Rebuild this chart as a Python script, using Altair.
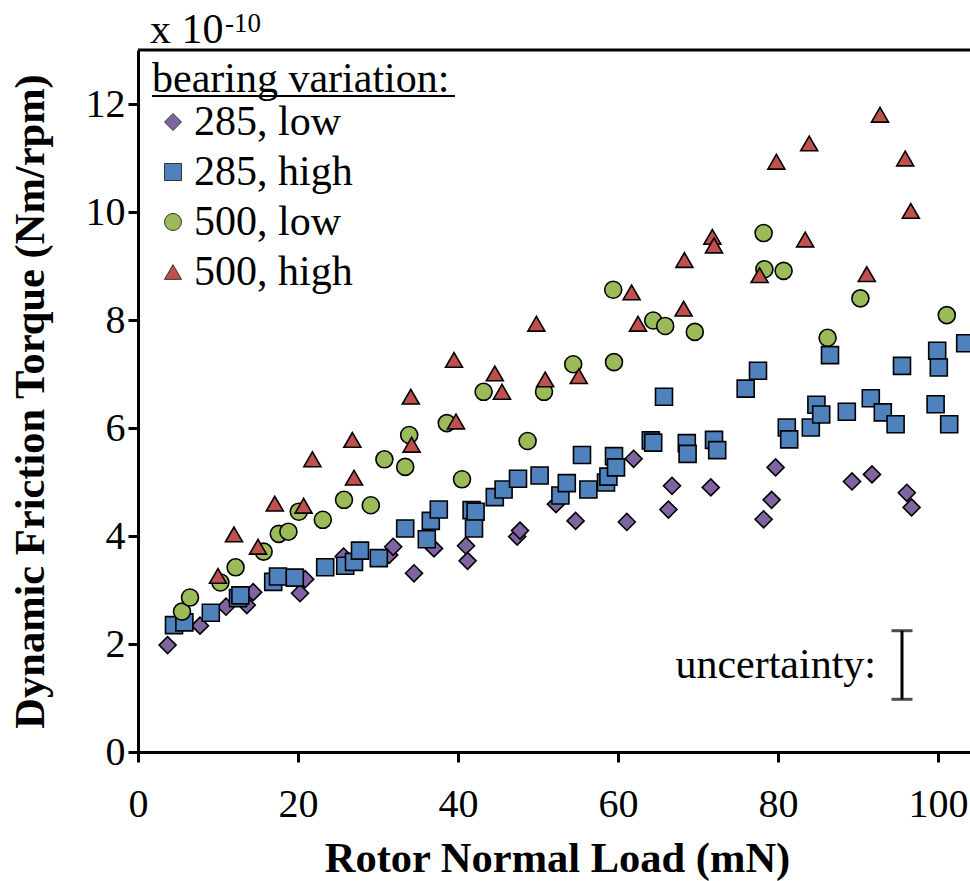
import altair as alt
import pandas as pd

series_names = ["285, low", "285, high", "500, low", "500, high"]
series_colors = ["#8064A2", "#4F81BD", "#9BBB59", "#C0504D"]
series_shapes = ["diamond", "square", "circle", "triangle-up"]
series_sizes = [289, 289, 225, 324]

# 285, low (diamonds)
low285_x = [3.7, 7.75, 11.0, 13.6, 14.4, 20.25, 20.9, 25.7, 31.4, 31.9, 34.5, 37.0, 41.0, 41.2,
            47.4, 47.75, 52.25, 54.7, 61.1, 61.95, 66.3, 66.75, 71.6, 78.2, 79.2, 79.7, 89.25,
            91.75, 96.1, 96.7]
low285_y = [1.98, 2.34, 2.69, 2.72, 2.96, 2.94, 3.2, 3.62, 3.65, 3.80, 3.31, 3.77, 3.82, 3.54,
            3.99, 4.10, 4.59, 4.28, 4.26, 5.43, 4.49, 4.93, 4.90, 4.31, 4.67, 5.27, 5.01,
            5.14, 4.80, 4.53]

# 285, high (squares)
high285_x = [4.5, 5.8, 9.1, 12.5, 12.8, 16.9, 17.5, 19.6, 23.4, 25.9, 27.0, 27.75, 30.1, 33.4,
             36.1, 36.6, 37.6, 41.7, 42.2, 42.0, 44.6, 45.7, 47.5, 50.2, 52.8, 53.6, 55.5, 56.3,
             58.5, 58.8, 59.5, 59.75, 64.1, 64.4, 65.75, 68.6, 68.7, 72.0, 72.4, 75.96, 77.5,
             81.1, 81.4, 84.1, 84.8, 85.4, 86.5, 88.6, 91.6, 93.1, 94.7, 95.5, 99.7, 99.9,
             100.1, 101.4, 103.4]
high285_y = [2.35, 2.40, 2.58, 2.85, 2.90, 3.15, 3.25, 3.23, 3.42, 3.45, 3.52, 3.73, 3.59, 4.14,
             3.94, 4.28, 4.49, 4.48, 4.45, 4.14, 4.72, 4.86, 5.06, 5.12, 4.75, 4.98, 5.50, 4.86,
             4.99, 5.10, 5.48, 5.27, 5.77, 5.73, 6.58, 5.72, 5.52, 5.78, 5.59, 6.73, 7.06,
             6.01, 5.79, 6.01, 6.43, 6.25, 7.35, 6.30, 6.55, 6.29, 6.07, 7.15, 6.44, 7.43,
             7.12, 6.07, 7.57]

# 500, low (circles)
low500_x = [5.5, 6.5, 10.3, 12.2, 15.7, 17.6, 18.8, 20.1, 23.1, 25.75, 29.1, 30.8, 33.4, 33.9,
            38.6, 40.5, 43.2, 48.7, 50.75, 54.4, 59.5, 59.4, 64.4, 65.9, 69.6, 78.2, 78.3,
            80.7, 86.2, 90.3, 101.1]
low500_y = [2.60, 2.86, 3.14, 3.42, 3.71, 4.04, 4.08, 4.45, 4.30, 4.67, 4.57, 5.42, 5.28, 5.87,
            6.09, 5.05, 6.67, 5.76, 6.67, 7.18, 7.22, 8.56, 7.99, 7.89, 7.78, 9.61, 8.94,
            8.91, 7.67, 8.40, 8.09]

# 500, high (triangles)
high500_x = [10.0, 12.0, 15.0, 17.1, 20.7, 21.8, 26.8, 27.0, 34.1, 34.2, 39.5, 39.75, 44.6, 45.5,
             49.8, 50.9, 55.1, 61.7, 62.5, 68.2, 68.3, 71.8, 72.0, 77.7, 79.8, 83.4, 83.9,
             91.1, 92.75, 95.9, 96.6]
high500_y = [3.26, 4.03, 3.80, 4.60, 4.56, 5.42, 5.78, 5.08, 6.58, 5.69, 7.26, 6.12, 7.01, 6.67,
             7.93, 6.90, 6.96, 8.51, 7.93, 8.21, 9.11, 9.54, 9.38, 8.83, 10.93, 9.49, 11.27,
             8.85, 11.80, 10.99, 10.02]

x_ticks = [0, 20, 40, 60, 80, 100]
y_ticks = [0, 2, 4, 6, 8, 10, 12]

# uncertainty bar
unc_x = [95.5]
unc_low = [0.976]
unc_high = [2.246]

FONT = "Liberation Serif"
W, H = 832, 702

rows = []
for name, xs, ys in zip(series_names,
                        [low285_x, high285_x, low500_x, high500_x],
                        [low285_y, high285_y, low500_y, high500_y]):
    for xv, yv in zip(xs, ys):
        rows.append({"series": name, "load": xv, "torque": yv})
df = pd.DataFrame(rows)

xscale = alt.Scale(domain=[0, 104], nice=False, zero=False)
yscale = alt.Scale(domain=[0, 13], nice=False)

legend = alt.Legend(
    title="bearing variation:", orient="none", legendX=14, legendY=9,
    padding=0, titlePadding=0, rowPadding=8, symbolOffset=0, labelOffset=0,
    titleFont=FONT, titleFontSize=42, titleFontWeight="normal", titleColor="black",
    titleLimit=1000, labelLimit=1000,
    labelFont=FONT, labelFontSize=42, labelColor="black",
    symbolSize=170, symbolStrokeColor="#333333", symbolStrokeWidth=1,
)

points = alt.Chart(df).mark_point(
    filled=True, stroke="black", strokeWidth=1.6, opacity=1
).encode(
    x=alt.X("load:Q", scale=xscale, axis=alt.Axis(
        values=x_ticks, title="Rotor Normal Load (mN)", labelPadding=22,
        titleY=106, titleBaseline="middle", titleX=419)),
    y=alt.Y("torque:Q", scale=yscale, axis=alt.Axis(
        values=y_ticks, title="Dynamic Friction Torque (Nm/rpm)", labelPadding=3,
        titleX=-108, titleY=351, titleAngle=-90, titleBaseline="middle",
        titleAlign="center")),
    color=alt.Color("series:N", scale=alt.Scale(domain=series_names, range=series_colors),
                    legend=legend),
    shape=alt.Shape("series:N", scale=alt.Scale(domain=series_names, range=series_shapes),
                    legend=legend),
    size=alt.Size("series:N", scale=alt.Scale(domain=series_names, range=series_sizes),
                  legend=None),
)

one = pd.DataFrame({"k": [0]})

top_border = alt.Chart(one).mark_rule(color="black", strokeWidth=3).encode(
    x=alt.value(0), x2=alt.value(W), y=alt.value(0))

underline = alt.Chart(one).mark_rule(color="black", strokeWidth=2).encode(
    x=alt.value(14), x2=alt.value(317), y=alt.value(46))

exp_main = alt.Chart(one).mark_text(
    font=FONT, fontSize=42, align="left", baseline="alphabetic", color="black"
).encode(x=alt.value(12), y=alt.value(-7), text=alt.value("x 10"))

exp_sup = alt.Chart(one).mark_text(
    font=FONT, fontSize=27, align="left", baseline="alphabetic", color="black"
).encode(x=alt.value(87), y=alt.value(-18), text=alt.value("-10"))

unc_df = pd.DataFrame({"x": unc_x, "lo": unc_low, "hi": unc_high})
unc_df["mid"] = (unc_df["lo"] + unc_df["hi"]) / 2

unc_rule = alt.Chart(unc_df).mark_rule(color="black", strokeWidth=3).encode(
    x=alt.X("x:Q", scale=xscale), y=alt.Y("lo:Q", scale=yscale), y2="hi:Q")
unc_cap_lo = alt.Chart(unc_df).mark_tick(
    color="black", orient="horizontal", size=21, thickness=3).encode(
    x=alt.X("x:Q", scale=xscale), y=alt.Y("lo:Q", scale=yscale))
unc_cap_hi = alt.Chart(unc_df).mark_tick(
    color="black", orient="horizontal", size=21, thickness=3).encode(
    x=alt.X("x:Q", scale=xscale), y=alt.Y("hi:Q", scale=yscale))
unc_text = alt.Chart(unc_df).mark_text(
    font=FONT, fontSize=42, align="right", baseline="middle", dx=-26, dy=0, color="black"
).encode(x=alt.X("x:Q", scale=xscale), y=alt.Y("mid:Q", scale=yscale),
         text=alt.value("uncertainty:"))

chart = alt.layer(
    top_border, underline, exp_main, exp_sup,
    unc_rule, unc_cap_lo, unc_cap_hi, unc_text, points
).properties(
    width=W, height=H,
    padding={"left": 138, "top": 50, "right": 0, "bottom": 129},
    autosize=alt.AutoSizeParams(type="none"),
    background="white",
).configure_view(
    stroke=None
).configure_axis(
    domainColor="black", domainWidth=3, tickColor="black", tickWidth=3, tickSize=10,
    grid=False, labelFont=FONT, labelFontSize=40, labelColor="black",
    titleFont=FONT, titleFontSize=42.5, titleFontWeight="bold", titleColor="black",
    labelFlush=False, labelOverlap=False,
)

chart.save("out.html", embed_options={"renderer": "svg", "actions": False})
